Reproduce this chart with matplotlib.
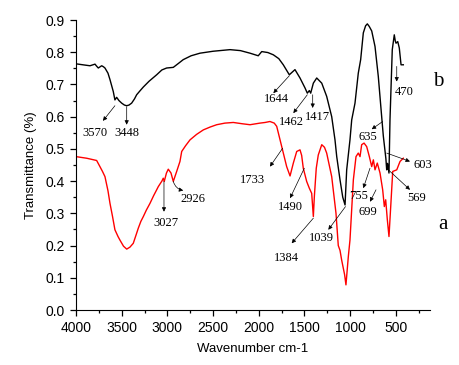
import matplotlib
matplotlib.use("Agg")
import matplotlib.pyplot as plt
from matplotlib.ticker import MultipleLocator

# Curve b (black)
wn_b = [4000, 3900, 3847, 3792, 3775, 3756, 3719, 3700, 3683, 3650, 3628, 3592, 3574, 3555,
        3530, 3500, 3470, 3445, 3420, 3391, 3360, 3336, 3300, 3263, 3200, 3117, 3060, 3008,
        2935, 2880, 2826, 2740, 2643, 2500, 2314, 2200, 2095, 2005, 1967, 1900, 1840, 1780,
        1731, 1665, 1603, 1548, 1493, 1468, 1446, 1431, 1402, 1365, 1310, 1256, 1201, 1165,
        1146, 1110, 1080, 1055, 1037, 1001, 982, 946, 910, 884, 855, 830, 811, 790, 763,
        727, 691, 654, 636, 620, 608, 599, 590, 574, 563, 538, 516, 505, 497, 478, 461, 442,
        417]
tr_b = [0.764, 0.760, 0.758, 0.763, 0.757, 0.751, 0.758, 0.755, 0.751, 0.735, 0.715, 0.678,
        0.652, 0.660, 0.650, 0.642, 0.636, 0.634, 0.636, 0.642, 0.655, 0.668, 0.680, 0.692,
        0.710, 0.730, 0.745, 0.751, 0.753, 0.765, 0.777, 0.789, 0.797, 0.803, 0.808, 0.805,
        0.797, 0.789, 0.802, 0.799, 0.792, 0.780, 0.761, 0.730, 0.746, 0.720, 0.689, 0.673,
        0.681, 0.673, 0.704, 0.720, 0.704, 0.663, 0.600, 0.528, 0.476, 0.404, 0.350, 0.326,
        0.435, 0.528, 0.590, 0.642, 0.735, 0.777, 0.860, 0.882, 0.888, 0.880, 0.866, 0.818,
        0.725, 0.600, 0.540, 0.500, 0.470, 0.435, 0.455, 0.425, 0.590, 0.808, 0.854, 0.835,
        0.828, 0.833, 0.813, 0.761, 0.761]

# Curve a (red)
wn_a = [4000, 3883, 3774, 3738, 3710, 3683, 3650, 3628, 3600, 3574, 3540, 3519, 3480, 3445,
        3410, 3373, 3340, 3318, 3290, 3263, 3230, 3190, 3150, 3117, 3099, 3060, 3045, 3034,
        3010, 2990, 2960, 2935, 2898, 2862, 2843, 2800, 2752, 2680, 2606, 2530, 2460, 2370,
        2278, 2180, 2095, 1986, 1930, 1877, 1830, 1803, 1748, 1694, 1657, 1621, 1584, 1548,
        1530, 1512, 1475, 1446, 1420, 1402, 1391, 1370, 1348, 1310, 1280, 1256, 1201, 1154,
        1129, 1110, 1092, 1060, 1045, 1019, 1001, 964, 935, 910, 891, 873, 847, 818, 789,
        763, 745, 727, 702, 672, 643, 625, 610, 592, 574, 555, 533, 489, 453, 417]
tr_a = [0.476, 0.471, 0.464, 0.445, 0.430, 0.414, 0.370, 0.331, 0.290, 0.249, 0.228, 0.217,
        0.198, 0.189, 0.195, 0.207, 0.235, 0.254, 0.275, 0.290, 0.310, 0.331, 0.355, 0.373,
        0.383, 0.400, 0.409, 0.399, 0.425, 0.437, 0.425, 0.399, 0.430, 0.461, 0.492, 0.510,
        0.528, 0.545, 0.559, 0.568, 0.575, 0.580, 0.582, 0.578, 0.575, 0.580, 0.582, 0.585,
        0.580, 0.570, 0.507, 0.445, 0.416, 0.456, 0.492, 0.497, 0.480, 0.440, 0.399, 0.378,
        0.362, 0.290, 0.352, 0.440, 0.481, 0.513, 0.505, 0.487, 0.414, 0.300, 0.200, 0.185,
        0.155, 0.110, 0.078, 0.166, 0.217, 0.404, 0.476, 0.487, 0.476, 0.513, 0.518, 0.507,
        0.476, 0.445, 0.466, 0.435, 0.456, 0.425, 0.373, 0.321, 0.342, 0.280, 0.228, 0.321,
        0.430, 0.435, 0.461, 0.471]

# Annotations: label, tail (on curve), arrow head, text position
ann_labels = ["3570", "3448", "1644", "1462", "1417", "635", "603", "470",
              "3027", "2926", "1733", "1490", "1384", "1039", "755", "699", "569"]
ann_tail = [(3574, 0.634), (3445, 0.631), (1665, 0.727), (1468, 0.668), (1409, 0.668),
            (643, 0.585), (599, 0.487), (489, 0.756),
            (3037, 0.399), (2935, 0.399), (1738, 0.502), (1501, 0.440), (1402, 0.285),
            (1050, 0.321), (782, 0.440), (716, 0.373), (581, 0.435)]
ann_head = [(3705, 0.587), (3445, 0.575), (1840, 0.673), (1621, 0.611), (1409, 0.627),
            (763, 0.561), (344, 0.461), (489, 0.709),
            (3037, 0.305), (2826, 0.371), (1877, 0.445), (1657, 0.347), (1639, 0.207),
            (1238, 0.249), (855, 0.378), (782, 0.336), (344, 0.373)]
ann_text = [(3792, 0.550), (3445, 0.550), (1811, 0.655), (1639, 0.582), (1359, 0.599),
            (800, 0.538), (198, 0.450), (406, 0.678),
            (3018, 0.269), (2716, 0.345), (2073, 0.404), (1650, 0.319), (1694, 0.161),
            (1310, 0.223), (902, 0.355), (800, 0.305), (271, 0.347)]

fig = plt.figure(figsize=(4.59, 3.65), dpi=100)
ax = fig.add_axes([76/459, 1-310/365, (430-76)/459, (310-20)/365])

ax.plot(wn_b, tr_b, color="black", lw=1.0)
ax.plot(wn_a, tr_a, color="red", lw=1.0)

ax.set_xlim(4000, 125)
ax.set_ylim(0.0, 0.9)
ax.xaxis.set_major_locator(MultipleLocator(500))
ax.xaxis.set_minor_locator(MultipleLocator(250))
ax.yaxis.set_major_locator(MultipleLocator(0.1))
ax.yaxis.set_minor_locator(MultipleLocator(0.05))
ax.spines["top"].set_visible(False)
ax.spines["right"].set_visible(False)
ax.tick_params(which="major", direction="out", length=4.5, width=0.9, labelsize=10)
ax.tick_params(which="minor", direction="out", length=2.5, width=0.9)
ax.set_xticks([4000, 3500, 3000, 2500, 2000, 1500, 1000, 500])
ax.set_yticks([0.0, 0.1, 0.2, 0.3, 0.4, 0.5, 0.6, 0.7, 0.8, 0.9])
ax.set_yticklabels([f"{v:.1f}" for v in ax.get_yticks()], family="Liberation Sans")
ax.set_xticklabels(["4000", "3500", "3000", "2500", "2000", "1500", "1000", "500"],
                   family="Liberation Sans")
ax.set_xlabel("Wavenumber cm-1", family="Liberation Sans", fontsize=9.5, labelpad=6)
ax.set_ylabel("Transmittance (%)", family="Liberation Sans", fontsize=9.5, labelpad=6)

for i, lab in enumerate(ann_labels):
    rad = 0.3 if lab == "2926" else 0.0
    ax.annotate("", xy=ann_head[i], xytext=ann_tail[i],
                arrowprops=dict(arrowstyle="-|>", color="black", lw=0.5,
                                mutation_scale=6, shrinkA=0, shrinkB=0,
                                connectionstyle=f"arc3,rad={rad}"))
    ax.text(ann_text[i][0], ann_text[i][1], lab, family="Liberation Serif", fontsize=9,
            ha="center", va="center", clip_on=False)

ax.text(34, 0.709, "b", family="Liberation Serif", fontsize=15, ha="center", va="center",
        clip_on=False)
ax.text(-21, 0.264, "a", family="Liberation Serif", fontsize=15, ha="center", va="center",
        clip_on=False)

fig.savefig("out.png", dpi=100)
